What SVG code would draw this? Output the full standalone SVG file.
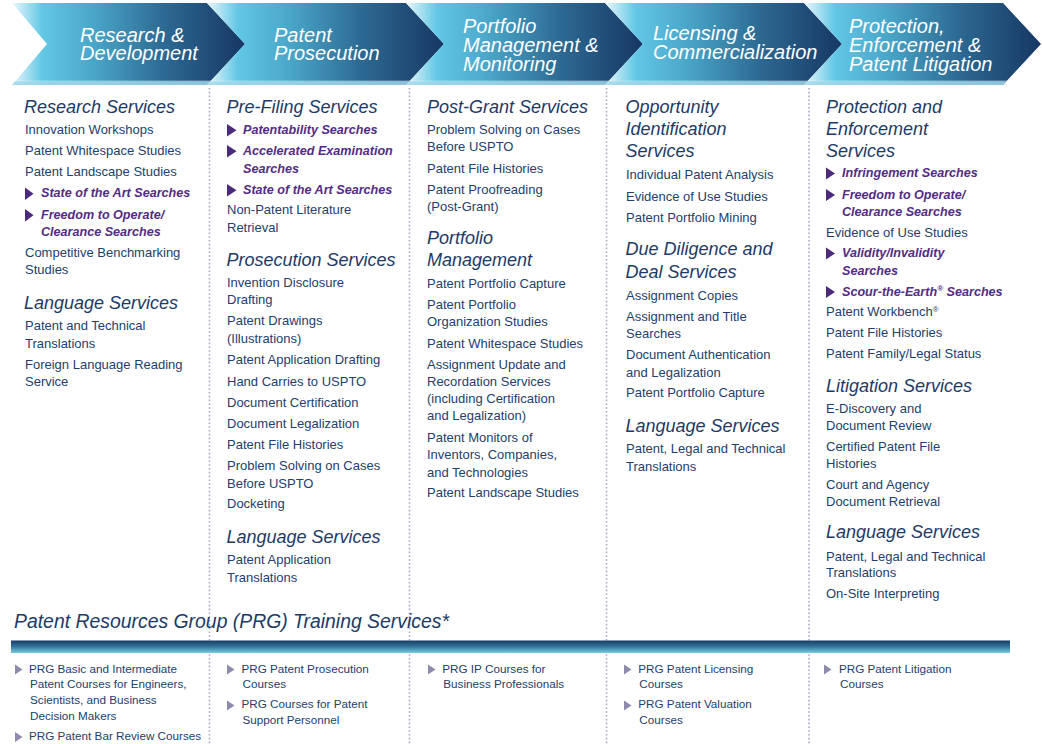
<svg xmlns="http://www.w3.org/2000/svg" width="1042" height="744" viewBox="0 0 1042 744">
<defs>
<linearGradient id="chev" x1="0" y1="0" x2="1" y2="0">
<stop offset="0" stop-color="#eaf7fb"/>
<stop offset="0.13" stop-color="#62c7e5"/>
<stop offset="0.35" stop-color="#4aa6c9"/>
<stop offset="0.65" stop-color="#2d6a93"/>
<stop offset="1" stop-color="#163763"/>
</linearGradient>
<linearGradient id="chevShade" x1="0" y1="0" x2="0" y2="1">
<stop offset="0" stop-color="#ffffff" stop-opacity="0"/>
<stop offset="0.94" stop-color="#ffffff" stop-opacity="0"/>
<stop offset="0.96" stop-color="#9fd8ec" stop-opacity="0.85"/>
<stop offset="1" stop-color="#9fd8ec" stop-opacity="0.85"/>
</linearGradient>
<linearGradient id="band" x1="0" y1="0" x2="0" y2="1">
<stop offset="0" stop-color="#183a66"/>
<stop offset="0.45" stop-color="#2f6e95"/>
<stop offset="1" stop-color="#76cbe3"/>
</linearGradient>
<style>
.hdr{font-family:"Liberation Sans",Arial,sans-serif;font-style:italic;font-size:20px;fill:#ffffff}
.h{font-family:"Liberation Sans",Arial,sans-serif;font-style:italic;font-size:18px;fill:#1d3a66}
.i{font-family:"Liberation Sans",Arial,sans-serif;font-size:13px;fill:#23406d}
.p{font-family:"Liberation Sans",Arial,sans-serif;font-style:italic;font-weight:bold;font-size:12.6px;fill:#532c85}
.tri{fill:#4b2a7c}
.btri{fill:#8d8bab}
.bt{font-family:"Liberation Sans",Arial,sans-serif;font-size:11.7px;fill:#23406d}
.title{font-family:"Liberation Sans",Arial,sans-serif;font-style:italic;font-size:19.4px;fill:#1d3a66}
.sep{stroke:#aaa7cc;stroke-width:1.6;stroke-dasharray:1.6 2.2;fill:none}
</style>
</defs>
<rect width="1042" height="744" fill="#ffffff"/>

<g id="separators">
<line class="sep" x1="209.5" y1="88" x2="209.5" y2="744"/>
<line class="sep" x1="409.5" y1="88" x2="409.5" y2="744"/>
<line class="sep" x1="606.5" y1="88" x2="606.5" y2="744"/>
<line class="sep" x1="809" y1="88" x2="809" y2="744"/>
</g>

<g id="stage-1">
<polygon points="12,3 207,3 245,44 207,85 12,85 47,44" fill="url(#chev)"/>
<polygon points="12,3 207,3 245,44 207,85 12,85 47,44" fill="url(#chevShade)"/>
<text class="hdr" x="80" y="41.5">Research &amp;</text>
<text class="hdr" x="80" y="60">Development</text>
</g>
<g id="stage-2">
<polygon points="207,3 406,3 444,44 406,85 207,85 245,44" fill="url(#chev)"/>
<polygon points="207,3 406,3 444,44 406,85 207,85 245,44" fill="url(#chevShade)"/>
<text class="hdr" x="274" y="41.5">Patent</text>
<text class="hdr" x="274" y="60">Prosecution</text>
</g>
<g id="stage-3">
<polygon points="406,3 605,3 643,44 605,85 406,85 444,44" fill="url(#chev)"/>
<polygon points="406,3 605,3 643,44 605,85 406,85 444,44" fill="url(#chevShade)"/>
<text class="hdr" x="463" y="33">Portfolio</text>
<text class="hdr" x="463" y="52">Management &amp;</text>
<text class="hdr" x="463" y="70.5">Monitoring</text>
</g>
<g id="stage-4">
<polygon points="605,3 804,3 842,44 804,85 605,85 643,44" fill="url(#chev)"/>
<polygon points="605,3 804,3 842,44 804,85 605,85 643,44" fill="url(#chevShade)"/>
<text class="hdr" x="653" y="40">Licensing &amp;</text>
<text class="hdr" x="653" y="58.5">Commercialization</text>
</g>
<g id="stage-5">
<polygon points="804,3 1003,3 1041,44 1003,85 804,85 842,44" fill="url(#chev)"/>
<polygon points="804,3 1003,3 1041,44 1003,85 804,85 842,44" fill="url(#chevShade)"/>
<text class="hdr" x="849" y="32.5">Protection,</text>
<text class="hdr" x="849" y="51.5">Enforcement &amp;</text>
<text class="hdr" x="849" y="70.5">Patent Litigation</text>
</g>

<g id="col-research">
<text class="h" x="24" y="112.5">Research Services</text>
<text class="i" x="25" y="134">Innovation Workshops</text>
<text class="i" x="25" y="155">Patent Whitespace Studies</text>
<text class="i" x="25" y="176">Patent Landscape Studies</text>
<polygon class="tri" points="25,187.5 33.5,193.7 25,200"/>
<text class="p" x="41" y="197.3">State of the Art Searches</text>
<polygon class="tri" points="25,209 33.5,215.2 25,221.5"/>
<text class="p" x="41" y="219">Freedom to Operate/</text>
<text class="p" x="41" y="235.7">Clearance Searches</text>
<text class="i" x="25" y="256.7">Competitive Benchmarking</text>
<text class="i" x="25" y="274.3">Studies</text>
<text class="h" x="24" y="308.5">Language Services</text>
<text class="i" x="25" y="330">Patent and Technical</text>
<text class="i" x="25" y="347.7">Translations</text>
<text class="i" x="25" y="369.3">Foreign Language Reading</text>
<text class="i" x="25" y="386">Service</text>
</g>

<g id="col-prosecution">
<text class="h" x="226.5" y="113">Pre-Filing Services</text>
<polygon class="tri" points="227,124 236.5,130.3 227,136.6"/>
<text class="p" x="243" y="134">Patentability Searches</text>
<polygon class="tri" points="227,145 236.5,151.3 227,157.6"/>
<text class="p" x="243" y="155">Accelerated Examination</text>
<text class="p" x="243" y="172.7">Searches</text>
<polygon class="tri" points="227,184 236.5,190.3 227,196.6"/>
<text class="p" x="243" y="194">State of the Art Searches</text>
<text class="i" x="227" y="214.3">Non-Patent Literature</text>
<text class="i" x="227" y="231.7">Retrieval</text>
<text class="h" x="226.5" y="266">Prosecution Services</text>
<text class="i" x="227" y="287.3">Invention Disclosure</text>
<text class="i" x="227" y="304.3">Drafting</text>
<text class="i" x="227" y="325.3">Patent Drawings</text>
<text class="i" x="227" y="342.7">(Illustrations)</text>
<text class="i" x="227" y="364">Patent Application Drafting</text>
<text class="i" x="227" y="385.7">Hand Carries to USPTO</text>
<text class="i" x="227" y="406.7">Document Certification</text>
<text class="i" x="227" y="427.7">Document Legalization</text>
<text class="i" x="227" y="449.3">Patent File Histories</text>
<text class="i" x="227" y="470">Problem Solving on Cases</text>
<text class="i" x="227" y="487.7">Before USPTO</text>
<text class="i" x="227" y="508.3">Docketing</text>
<text class="h" x="226.5" y="543.3">Language Services</text>
<text class="i" x="227" y="564.3">Patent Application</text>
<text class="i" x="227" y="581.7">Translations</text>
</g>

<g id="col-portfolio">
<text class="h" x="427" y="113.3">Post-Grant Services</text>
<text class="i" x="427" y="134.3">Problem Solving on Cases</text>
<text class="i" x="427" y="151">Before USPTO</text>
<text class="i" x="427" y="173.3">Patent File Histories</text>
<text class="i" x="427" y="194">Patent Proofreading</text>
<text class="i" x="427" y="211">(Post-Grant)</text>
<text class="h" x="427" y="244">Portfolio</text>
<text class="h" x="427" y="265.7">Management</text>
<text class="i" x="427" y="287.7">Patent Portfolio Capture</text>
<text class="i" x="427" y="308.7">Patent Portfolio</text>
<text class="i" x="427" y="326">Organization Studies</text>
<text class="i" x="427" y="347.7">Patent Whitespace Studies</text>
<text class="i" x="427" y="369.3">Assignment Update and</text>
<text class="i" x="427" y="386">Recordation Services</text>
<text class="i" x="427" y="403.3">(including Certification</text>
<text class="i" x="427" y="420">and Legalization)</text>
<text class="i" x="427" y="442.3">Patent Monitors of</text>
<text class="i" x="427" y="459.3">Inventors, Companies,</text>
<text class="i" x="427" y="476.7">and Technologies</text>
<text class="i" x="427" y="497.3">Patent Landscape Studies</text>
</g>

<g id="col-licensing">
<text class="h" x="625.5" y="113.3">Opportunity</text>
<text class="h" x="625.5" y="135">Identification</text>
<text class="h" x="625.5" y="156.7">Services</text>
<text class="i" x="626" y="179.3">Individual Patent Analysis</text>
<text class="i" x="626" y="200.7">Evidence of Use Studies</text>
<text class="i" x="626" y="221.7">Patent Portfolio Mining</text>
<text class="h" x="625.5" y="255">Due Diligence and</text>
<text class="h" x="625.5" y="278.3">Deal Services</text>
<text class="i" x="626" y="300">Assignment Copies</text>
<text class="i" x="626" y="320.7">Assignment and Title</text>
<text class="i" x="626" y="338.3">Searches</text>
<text class="i" x="626" y="359.3">Document Authentication</text>
<text class="i" x="626" y="376.7">and Legalization</text>
<text class="i" x="626" y="397.3">Patent Portfolio Capture</text>
<text class="h" x="625.5" y="431.7">Language Services</text>
<text class="i" x="626" y="453.3">Patent, Legal and Technical</text>
<text class="i" x="626" y="470.7">Translations</text>
</g>

<g id="col-litigation">
<text class="h" x="826" y="112.7">Protection and</text>
<text class="h" x="826" y="135">Enforcement</text>
<text class="h" x="826" y="156.7">Services</text>
<polygon class="tri" points="826,167.5 835,173.5 826,179.5"/>
<text class="p" x="842" y="177.3">Infringement Searches</text>
<polygon class="tri" points="826,189 835,195 826,201"/>
<text class="p" x="842" y="199">Freedom to Operate/</text>
<text class="p" x="842" y="216">Clearance Searches</text>
<text class="i" x="826" y="236.7">Evidence of Use Studies</text>
<polygon class="tri" points="826,247.5 835,253.5 826,259.5"/>
<text class="p" x="842" y="257.3">Validity/Invalidity</text>
<text class="p" x="842" y="275">Searches</text>
<polygon class="tri" points="826,286 835,292 826,298"/>
<text class="p" x="842" y="295.7">Scour-the-Earth<tspan font-size="8" dy="-4.5">®</tspan><tspan dy="4.5"> Searches</tspan></text>
<text class="i" x="826" y="316">Patent Workbench<tspan font-size="8" dy="-4.5">®</tspan></text>
<text class="i" x="826" y="337.3">Patent File Histories</text>
<text class="i" x="826" y="357.7">Patent Family/Legal Status</text>
<text class="h" x="826" y="391.7">Litigation Services</text>
<text class="i" x="826" y="413.3">E-Discovery and</text>
<text class="i" x="826" y="430">Document Review</text>
<text class="i" x="826" y="450.7">Certified Patent File</text>
<text class="i" x="826" y="467.7">Histories</text>
<text class="i" x="826" y="489.3">Court and Agency</text>
<text class="i" x="826" y="506">Document Retrieval</text>
<text class="h" x="826" y="538.3">Language Services</text>
<text class="i" x="826" y="560.7">Patent, Legal and Technical</text>
<text class="i" x="826" y="577.3">Translations</text>
<text class="i" x="826" y="598.3">On-Site Interpreting</text>
</g>

<g id="training">
<text class="title" x="14" y="628.3">Patent Resources Group (PRG) Training Services*</text>
<rect x="11" y="640.5" width="999" height="12.5" fill="url(#band)"/>
<polygon class="btri" points="15,664.5 22.5,669.5 15,674.5"/>
<text class="bt" x="29" y="672.7">PRG Basic and Intermediate</text>
<text class="bt" x="30" y="688.3">Patent Courses for Engineers,</text>
<text class="bt" x="30" y="704">Scientists, and Business</text>
<text class="bt" x="30" y="720">Decision Makers</text>
<polygon class="btri" points="15,732 22.5,737 15,742"/>
<text class="bt" x="29" y="740">PRG Patent Bar Review Courses</text>
<polygon class="btri" points="227,664.5 234.5,669.5 227,674.5"/>
<text class="bt" x="241.5" y="672.7">PRG Patent Prosecution</text>
<text class="bt" x="242.5" y="688.3">Courses</text>
<polygon class="btri" points="227,700.5 234.5,705.5 227,710.5"/>
<text class="bt" x="241.5" y="708.3">PRG Courses for Patent</text>
<text class="bt" x="242.5" y="724">Support Personnel</text>
<polygon class="btri" points="428,664.5 435.5,669.5 428,674.5"/>
<text class="bt" x="442.3" y="672.7">PRG IP Courses for</text>
<text class="bt" x="443.3" y="688.3">Business Professionals</text>
<polygon class="btri" points="624,664.5 631.5,669.5 624,674.5"/>
<text class="bt" x="638.3" y="672.7">PRG Patent Licensing</text>
<text class="bt" x="639.3" y="688.3">Courses</text>
<polygon class="btri" points="624,700.5 631.5,705.5 624,710.5"/>
<text class="bt" x="638.3" y="708.3">PRG Patent Valuation</text>
<text class="bt" x="639.3" y="724">Courses</text>
<polygon class="btri" points="824,664.5 831.5,669.5 824,674.5"/>
<text class="bt" x="839" y="672.7">PRG Patent Litigation</text>
<text class="bt" x="840" y="688.3">Courses</text>
</g>
</svg>
